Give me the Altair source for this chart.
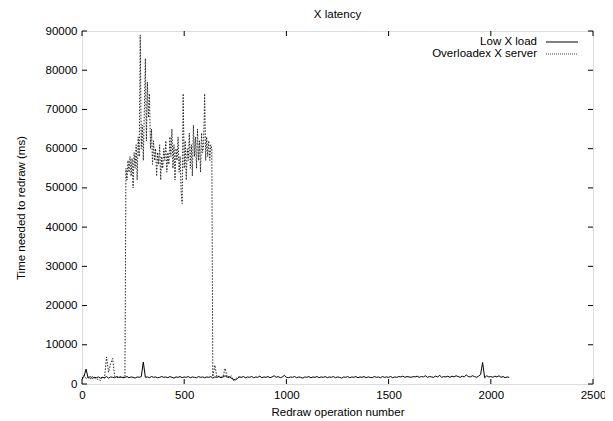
import altair as alt
import pandas as pd

# ---- data ----
# Low X load: one sample every 10 redraw operations, 0..2090
low_start, low_step = 0, 10
low_y = [
    1200, 2000, 3800, 1500, 1900, 1400, 1700, 1600, 1800, 1500,
    1700, 1600, 1900, 1500, 1800, 1700, 1600, 1900, 1700, 1800,
    1600, 1700, 1900, 1600, 1800, 1700, 1500, 1800, 1700, 1900,
    5600, 1700, 1800, 1600, 1900, 1700, 1800, 1600, 1700, 1900,
    1700, 1800, 1600, 1900, 1700, 1500, 1800, 1700, 1900, 1600,
    1800, 1700, 1900, 1600, 1800, 1700, 1600, 1900, 1700, 1800,
    1600, 1800, 1700, 1900, 1500, 1800, 1700, 1900, 1600, 1800,
    2100, 1700, 1900, 1500, 1200, 1000, 1400, 1800, 1700, 1900,
    1600, 1800, 1700, 1900, 1600, 1800, 1700, 2000, 1600, 1800,
    1700, 1900, 1600, 1800, 2100, 1700, 1900, 1600, 1800, 2200,
    1700, 1600, 1800, 1700, 1900, 1600, 1800, 1700, 1500, 1800,
    1700, 1900, 1600, 1800, 1700, 1900, 1600, 1800, 1700, 1900,
    1600, 1800, 1700, 1900, 1600, 1800, 1700, 1500, 1800, 1700,
    1900, 1600, 1800, 1700, 1900, 1600, 1800, 1700, 1900, 1600,
    1800, 1700, 1600, 1900, 1700, 1800, 1600, 1900, 1700, 1800,
    1700, 1900, 1600, 1800, 1700, 1900, 1800, 2000, 1700, 1900,
    1800, 1700, 1900, 1800, 2000, 1700, 1900, 1800, 2100, 1700,
    1900, 1800, 1700, 2000, 1800, 2200, 1700, 1900, 1800, 2000,
    1700, 2000, 1800, 2100, 1900, 1700, 2000, 1800, 2300, 1900,
    1800, 2100, 1900, 1700, 2000, 2400, 5500, 1600, 2100, 1800,
    1900, 1700, 2000, 1800, 2100, 1700, 1900, 1600, 1800, 1700,
]

# Overloaded X server: three stretches
over_a_x = list(range(0, 220, 10))          # before overload
over_a_y = [1500, 2200, 1400, 1800, 1300, 1900, 1600, 1400, 1100, 900,
            1700, 1500, 6900, 3000, 5200, 6500, 1900, 1700, 1600, 1800,
            1700, 1800]
over_b_x = list(range(215, 640, 5))         # overloaded stretch
over_b_y = [
    55000, 52000, 57000, 54000, 58000, 53000, 57500, 50000, 59000, 55000,
    61000, 52000, 63000, 58000, 89000, 60000, 66000, 57000, 70000, 83000,
    62000, 77000, 68000, 74000, 60000, 65000, 56000, 62000, 57000, 60000,
    53000, 59000, 56000, 61000, 52000, 58000, 55000, 60000, 57000, 62000,
    54000, 59000, 56000, 63000, 58000, 65000, 55000, 61000, 52000, 60000,
    57000, 63000, 54000, 58000, 49000, 46000, 74000, 55000, 62000, 52000,
    60000, 57000, 64000, 55000, 61000, 53000, 66000, 58000, 63000, 55000,
    65000, 57000, 62000, 54000, 64000, 59000, 61000, 74000, 57000, 63000,
    58000, 62000, 57000, 61000, 60000,
]
over_c_x = list(range(640, 790, 10))        # after overload
over_c_y = [1900, 4800, 1800, 2000, 1700, 1900, 4000, 1800, 1600, 2100,
            900, 1200, 1700, 1800, 1700]

x_ticks = [0, 500, 1000, 1500, 2000, 2500]
y_ticks = [0, 10000, 20000, 30000, 40000, 50000, 60000, 70000, 80000, 90000]
legend_labels = ["Low X load", "Overloadex X server"]

# ---- tables ----
low_df = pd.DataFrame({
    "x": [low_start + i * low_step for i in range(len(low_y))],
    "y": low_y,
})
over_df = pd.DataFrame({
    "x": over_a_x + over_b_x + over_c_x,
    "y": over_a_y + over_b_y + over_c_y,
})
xt_df = pd.DataFrame({"x": x_ticks})
yt_df = pd.DataFrame({"y": y_ticks})

W, H = 511, 353
FONT = "Liberation Sans"
FS = 11.5

xscale = alt.Scale(domain=[0, 2500], nice=False, zero=False)
yscale = alt.Scale(domain=[0, 90000], nice=False)

axis_common = dict(
    grid=False, ticks=False, domain=False, format="d",
    labelFont=FONT, labelFontSize=FS, labelColor="black",
    titleFont=FONT, titleFontSize=FS, titleFontWeight="normal", titleColor="black",
    labelOverlap=False,
)
xaxis = alt.Axis(values=x_ticks, title="Redraw operation number",
                 labelPadding=5, titlePadding=6, labelFlush=False, **axis_common)
yaxis = alt.Axis(values=y_ticks, title="Time needed to redraw (ms)",
                 labelPadding=5, titlePadding=19, **axis_common)

X = alt.X("x:Q", scale=xscale, axis=xaxis)
Y = alt.Y("y:Q", scale=yscale, axis=yaxis)

base_over = alt.Chart(over_df).mark_line(
    color="#222222", strokeWidth=1, strokeDash=[1.5, 1.5]
).encode(x=X, y=Y)
base_low = alt.Chart(low_df).mark_line(color="black", strokeWidth=1).encode(x=X, y=Y)

tick_style = dict(color="black", strokeWidth=1)
xt_bottom = alt.Chart(xt_df).mark_rule(**tick_style).encode(
    x=X, y=alt.value(H), y2=alt.value(H - 5))
xt_top = alt.Chart(xt_df).mark_rule(**tick_style).encode(
    x=X, y=alt.value(0), y2=alt.value(5))
yt_left = alt.Chart(yt_df).mark_rule(**tick_style).encode(
    y=Y, x=alt.value(0), x2=alt.value(5))
yt_right = alt.Chart(yt_df).mark_rule(**tick_style).encode(
    y=Y, x=alt.value(W), x2=alt.value(W - 5))

# legend (gnuplot style: label on the left, sample on the right)
leg_text1 = alt.Chart(pd.DataFrame({"label": [legend_labels[0]]})).mark_text(
    align="right", baseline="middle", font=FONT, fontSize=FS, color="black"
).encode(text="label:N", x=alt.value(455), y=alt.value(11))
leg_text2 = alt.Chart(pd.DataFrame({"label": [legend_labels[1]]})).mark_text(
    align="right", baseline="middle", font=FONT, fontSize=FS, color="black"
).encode(text="label:N", x=alt.value(455), y=alt.value(23))
leg_line1 = alt.Chart(pd.DataFrame({"label": [legend_labels[0]]})).mark_rule(
    color="black", strokeWidth=1
).encode(x=alt.value(464), x2=alt.value(496), y=alt.value(11))
leg_line2 = alt.Chart(pd.DataFrame({"label": [legend_labels[1]]})).mark_rule(
    color="#444444", strokeWidth=1, strokeDash=[1, 1]
).encode(x=alt.value(464), x2=alt.value(496), y=alt.value(23))

chart = alt.layer(
    base_over, base_low, xt_bottom, xt_top, yt_left, yt_right,
    leg_text1, leg_text2, leg_line1, leg_line2,
).properties(
    width=W, height=H,
    title=alt.TitleParams("X latency", font=FONT, fontSize=FS, fontWeight="normal",
                          color="black", offset=5, anchor="middle"),
    autosize=alt.AutoSizeParams(type="none"),
    padding={"left": 74, "top": 23, "right": 12, "bottom": 36},
).configure_view(
    stroke="black", strokeWidth=1
).configure(background="white")

chart.save("out.html", embed_options={"renderer": "svg", "actions": False})
